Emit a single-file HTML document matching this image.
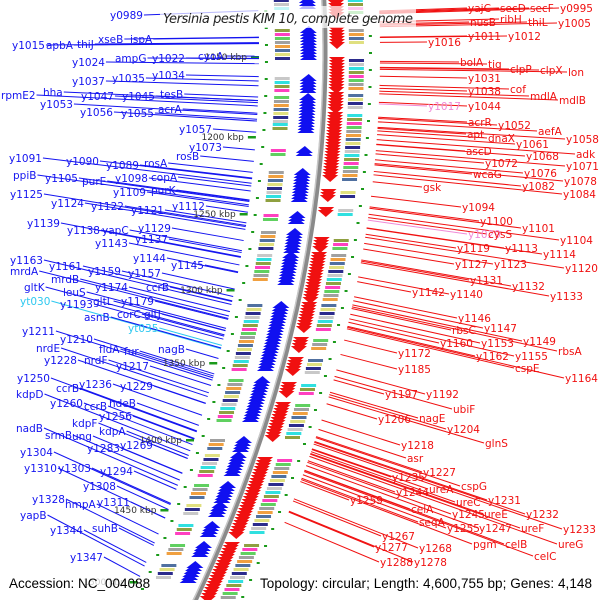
<!DOCTYPE html>
<html><head><meta charset="utf-8">
<style>
html,body{margin:0;padding:0;background:#fff;width:600px;height:600px;overflow:hidden}
svg{display:block}
.lb{font-family:"DejaVu Sans","Liberation Sans",sans-serif;font-size:10.5px}
.kb{font-family:"DejaVu Sans","Liberation Sans",sans-serif;font-size:9px;fill:#333}
</style></head>
<body>
<svg id="map" width="600" height="600" viewBox="0 0 600 600" xmlns="http://www.w3.org/2000/svg">
<g id="gMarks"></g>
<g id="gLines"></g>
<g id="gArc"></g>
<g id="gText"></g>
<rect x="160" y="6" width="256" height="22" fill="#fff" fill-opacity="0.7"/>
<text x="288" y="23" text-anchor="middle" font-family="DejaVu Sans, Liberation Sans, sans-serif" font-style="italic" font-size="13" textLength="250" fill="#222">Yersinia pestis KIM 10, complete genome</text>
<text x="9" y="588" font-family="Liberation Sans, sans-serif" font-size="13.5" fill="#000">Accession: NC_004088</text>
<text x="260" y="588" font-family="Liberation Sans, sans-serif" font-size="13.5" textLength="332" fill="#000">Topology: circular; Length: 4,600,755 bp; Genes: 4,148</text>
</svg>
<script>
// left (minus-strand) labels: text, x, baseline y, color
const leftLabels = [
["y0989",110,19],["y1015",12,49],["apbA",46,49],["thiJ",77,48],["xseB",98,43],["ispA",130,43],
["y1024",72,66],["ampG",115,62],["y1022",152,62],["cyoA",198,60],
["y1037",72,85],["y1035",112,82],["y1034",152,79],
["rpmE2",1,99],["hha",43,96],["y1047",81,100],["y1045",122,100],["tesB",160,98],
["y1053",40,108],["acrA",158,113],["y1056",80,116],["y1055",121,117],["y1057",179,133],["y1073",189,151],
["y1091",9,162],["y1090",66,165],["y1089",106,169],["rosA",144,167],["rosB",176,160],
["ppiB",13,179],["y1105",45,182],["purE",82,185],["y1098",115,182],["copA",151,181],
["y1109",113,196],["purK",151,194],
["y1125",10,198],["y1124",51,207],["y1122",91,210],["y1121",131,214],["y1112",172,210],
["y1139",27,227],["y1138",67,234],["yapC",102,234],["y1129",138,232],
["y1143",95,247],["y1137",135,243],["y1144",133,262],["y1163",10,264],["y1161",49,270],["y1159",88,275],["y1157",128,277],["y1145",171,269],
["mrdA",10,275],["mrdB",51,283],["y1174",95,291],["ccrB",146,291],
["gltK",24,291],["leuS",63,296],["gltL",93,305],["y1179",121,305],
["yt030",20,305,"#2ec8f0"],["y1193",60,308],
["asnB",84,321],["corC",117,318],["gltJ",144,318],["yt035",128,332,"#2ec8f0"],
["y1211",22,335],["y1210",60,343],["fldA",99,353],["fur",124,355],["nagB",158,353],
["nrdE",36,352],["y1228",44,364],["nrdF",84,364],["y1217",116,370],
["y1250",17,382],["ccrB",56,392],["y1236",79,388],["y1229",120,390],
["kdpD",16,398],["ccrB",84,410],["hdeB",109,407],["y1260",50,407],["y1256",99,420],
["kdpF",72,427],["kdpA",99,435],["nadB",16,432],["srmB",45,439],["ung",72,440],["y1283",87,452],["y1269",120,449],
["y1304",20,456],["y1310",24,472],["y1303",58,472],["y1294",100,475],["y1308",83,490],
["y1328",32,503],["hmpA",65,508],["y1311",97,506],["yapB",20,519],["y1344",50,534],["suhB",92,532],["y1347",70,561]
];
// right (plus-strand) labels: text, x, baseline y, color
const rightLabels = [
["yajC",468,12],["secD",500,12],["secF",530,12],["y0995",560,12],
["nusB",470,26],["ribH",500,23],["thiL",528,26],["y1005",558,27],
["y1016",428,46],["y1011",468,40],["y1012",508,40],
["bolA",460,66],["tig",488,68],["clpP",510,73],["clpX",540,74],["lon",568,76],
["y1031",468,82],["y1038",468,95],["cof",510,93],["mdlA",530,100],["mdlB",559,104],
["y1017",428,110,"#f08ad8"],["y1044",468,110],
["acrR",468,126],["y1052",498,129],["aefA",538,135],["apt",467,138],["dnaX",488,142],["y1058",566,143],
["y1061",516,148],["ascD",466,155],["adk",576,158],["y1068",526,160],["y1071",566,170],["y1072",485,167],
["y1076",524,177],["wcaG",473,178],["y1078",564,185],["gsk",423,191],["y1082",522,190],["y1084",563,198],
["y1094",462,211],["y1100",480,225],["y1101",522,232],["y1029",468,238,"#f08ad8"],["cysS",488,238],["y1104",560,244],
["y1119",457,252],["y1113",505,252],["y1114",543,258],["y1127",455,268],["y1123",494,268],["y1120",565,272],
["y1131",470,284],["y1132",512,290],["y1142",412,296],["y1140",450,298],["y1133",550,300],
["y1146",458,322],["rbsC",452,334],["y1147",484,332],["y1160",440,347],["y1153",481,347],["y1149",523,345],
["rbsA",558,355],["y1172",398,357],["y1162",476,360],["y1155",515,360],["cspE",515,372],["y1185",398,373],["y1164",565,382],
["y1197",385,398],["y1192",426,398],["ubiF",453,413],["y1206",378,423],["nagE",419,422],["y1204",447,433],
["glnS",485,447],["y1218",401,449],["asr",407,462],["y1227",423,476],["y1235",392,481],["cspG",461,490],
["y1244",396,496],["ureA",429,493],["ureC",456,506],["y1231",488,504],["y1259",350,504],["celA",411,513],
["y1245",452,518],["ureE",484,518],["y1232",526,518],["seqA",419,526],["y1255",447,532],["y1247",479,532],
["ureF",521,532],["y1233",563,533],["pgm",473,548],["celB",505,548],["ureG",558,548],["celC",534,560],
["y1267",382,540],["y1277",375,551],["y1268",419,552],["y1288",380,566],["y1278",414,566]
];
// tick labels on the scale
const tickLabels = ["1150 kbp","1200 kbp","1250 kbp","1300 kbp","1350 kbp","1400 kbp","1450 kbp","1500 kbp"];
const tickY = [57,137,214,290,363,440,510,582];
// gene clusters (y ranges along the arc)
const blueClusters = [[0,8],[30,58],[78,90],[97,122],[124,130],[150,155],[172,200],[215,222],[232,250],[255,282],[305,370],[380,420],[440,450],[455,475],[485,500],[505,515],[525,535],[545,555],[565,580]];
const redClusters = [[0,15],[30,45],[60,90],[95,110],[115,180],[192,198],[210,215],[240,250],[255,300],[305,330],[340,350],[360,372],[385,395],[405,440],[460,535],[545,600]];

const NS="http://www.w3.org/2000/svg";
const CX=-833, CY=52;
function ax(y){return 325-(y-52)*(y-52)/2316;}
function slope(x,y){return (y-CY)/(x-CX);}
function mk(tag,attrs,parent){const e=document.createElementNS(NS,tag);for(const k in attrs)e.setAttribute(k,attrs[k]);parent.appendChild(e);return e;}
const gM=document.getElementById('gMarks'),gL=document.getElementById('gLines'),gA=document.getElementById('gArc'),gT=document.getElementById('gText');

let d="";for(let y=-5;y<=605;y+=5){d+=(y<0?"M":"L")+ax(y).toFixed(1)+","+y+" ";}
const arc=mk('path',{d:d,stroke:'#8a8a8a','stroke-width':5,fill:'none'},gA);


const arc2=mk('path',{d:d,stroke:'#c8c8c8','stroke-width':1.5,fill:'none',transform:'translate(-2,0)'},gA);



const pal=["#2b2b8c","#c8c8c8","#30e0e0","#8fa040","#ff40c0","#60d060","#a0a0a0","#f0a040","#5070a0","#e0e080"];
let pi=0;
blueClusters.forEach(c=>{
  for(let y=c[0];y<=c[1];y+=3){
    const x=ax(y);
    const t=mk('polygon',{points:`${x-25},${y+3} ${x-16},${y-4} ${x-8},${y+3}`,fill:'#1010f0'},gM);
    
    
  }
  for(let y=c[0];y<=c[1];y+=4){
    const x=ax(y);
    const b=mk('rect',{x:x-50,y:y-1,width:15,height:3,fill:pal[pi++%pal.length]},gM);
    
    
  }
});
redClusters.forEach(c=>{
  for(let y=c[0];y<=c[1];y+=3){
    const x=ax(y);
    const t=mk('polygon',{points:`${x+4},${y-3} ${x+20},${y-3} ${x+12},${y+4}`,fill:'#f01010'},gM);
    
    
  }
  for(let y=c[0];y<=c[1];y+=4){
    const x=ax(y);
    const b=mk('rect',{x:x+24,y:y-1,width:15,height:3,fill:pal[pi++%pal.length]},gM);
    
    
  }
});
for(let y=10;y<600;y+=17){
  const g1=mk('rect',{x:ax(y)-60,y:y,width:3,height:2,fill:'#1a9a1a'},gM);
  
  
  const g2=mk('rect',{x:ax(y+8)+44,y:y+8,width:3,height:2,fill:'#1a9a1a'},gM);
  
  
}
tickLabels.forEach((t,i)=>{
  const y=tickY[i];const x=ax(y);
  const tk=mk('rect',{x:x-74,y:y-1,width:8,height:2.5,fill:'#1a9a1a'},gM);
  
  
  const tx=mk('text',{x:x-78,y:y+3,'text-anchor':'end',class:'kb'},gT);
  tx.textContent=t;
  if(i===tickLabels.length-1) tx.setAttribute('opacity','0.25');
  
  
});
leftLabels.forEach(l=>{
  const col=l[3]||'#1414f0';
  const t=mk('text',{x:l[1],y:l[2],class:'lb',fill:col},gT);
  t.textContent=l[0];
  
  
  const w=t.getComputedTextLength();
  const x1=l[1]+w+1,y1=l[2]-4;const s=slope(x1,y1);
  let x2=ax(y1)-66;for(let k=0;k<3;k++){x2=ax(y1+s*(x2-x1))-66;}
  const ln=mk('line',{x1:x1,y1:y1,x2:x2,y2:y1+s*(x2-x1),stroke:col,'stroke-width':1},gL);
  
  
});
rightLabels.forEach(l=>{
  const col=l[3]||'#f01010';
  const t=mk('text',{x:l[1],y:l[2],class:'lb',fill:col},gT);
  t.textContent=l[0];
  
  
  const x2=l[1]-1,y2=l[2]-4;const s=slope(x2,y2);
  let x1=ax(y2)+55;for(let k=0;k<3;k++){x1=ax(y2-s*(x2-x1))+55;}
  const ln=mk('line',{x1:x1,y1:y2-s*(x2-x1),x2:x2,y2:y2,stroke:col,'stroke-width':1},gL);
  
  
});
</script>
</body></html>
